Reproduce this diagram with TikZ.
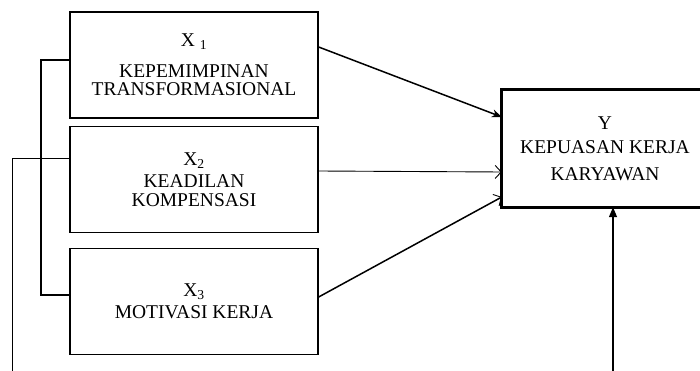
\documentclass[tikz,border=0pt]{standalone}
\usepackage{fontspec}
\setmainfont{Liberation Serif}
\usetikzlibrary{arrows.meta}
\tikzset{
  varbox/.style={draw, line width=1.3pt, minimum width=248pt, minimum height=106pt, align=center, inner sep=0pt, font=\fontsize{19.5}{22}\selectfont},
  ybox/.style={minimum width=206pt, minimum height=117pt, align=center, inner sep=0pt, font=\fontsize{19.5}{24}\selectfont},
  thickarr/.style={line width=1.5pt, -{Stealth[length=10pt,width=8pt]}},
  thinarr/.style={line width=0.9pt, -{Straight Barb[length=6pt,width=13pt,line width=0.9pt]}},
}
\begin{document}
\begin{tikzpicture}[x=1pt,y=-1pt]
\useasboundingbox (0,0) rectangle (700,371);
\clip (0,0) rectangle (700,371);
\node[varbox] (x1) at (194,65){X \textsubscript{1}\\[9pt] KEPEMIMPINAN\\[-4pt] TRANSFORMASIONAL};
\node[varbox] (x2) at (194,179.5){X\textsubscript{2}\\ KEADILAN\\[-3pt] KOMPENSASI};
\node[varbox] (x3) at (194,301.5){X\textsubscript{3}\\ MOTIVASI KERJA};
\node[ybox] (y) at (605,148.5){Y\\ KEPUASAN KERJA\\[3pt] KARYAWAN};
\draw[line width=3pt] ([xshift=10pt]y.north east) -| (y.south west) -- ([xshift=10pt]y.south east);
% garis korelasi kiri
\coordinate (k1) at (41,60);
\coordinate (k3) at (41,295);
\coordinate (k2) at (12,159);
\coordinate (k2b) at (12,375);
\draw[line width=1.6pt] ([yshift=5pt]x1.west) -- (k1) -- (k3) -- ([yshift=6.5pt]x3.west);
\draw[line width=1pt] ([yshift=20.5pt]x2.west) -- (k2) -- (k2b);
% panah ke Y
\draw[thickarr] ([yshift=18pt]x1.east) -- ([yshift=31.5pt]y.west);
\draw[thinarr] ([yshift=8.5pt]x2.east) -- ([yshift=-23.5pt]y.west);
\draw[line width=1.5pt, -{Straight Barb[length=6pt,width=13pt,line width=0.9pt]}] ([yshift=4.5pt]x3.east) -- ([yshift=-48.5pt]y.west);
\coordinate (e) at (613,375);
\draw[line width=1.4pt, -{Triangle[length=10pt,width=8pt]}] (e) -- (e |- y.south);
\end{tikzpicture}
\end{document}
